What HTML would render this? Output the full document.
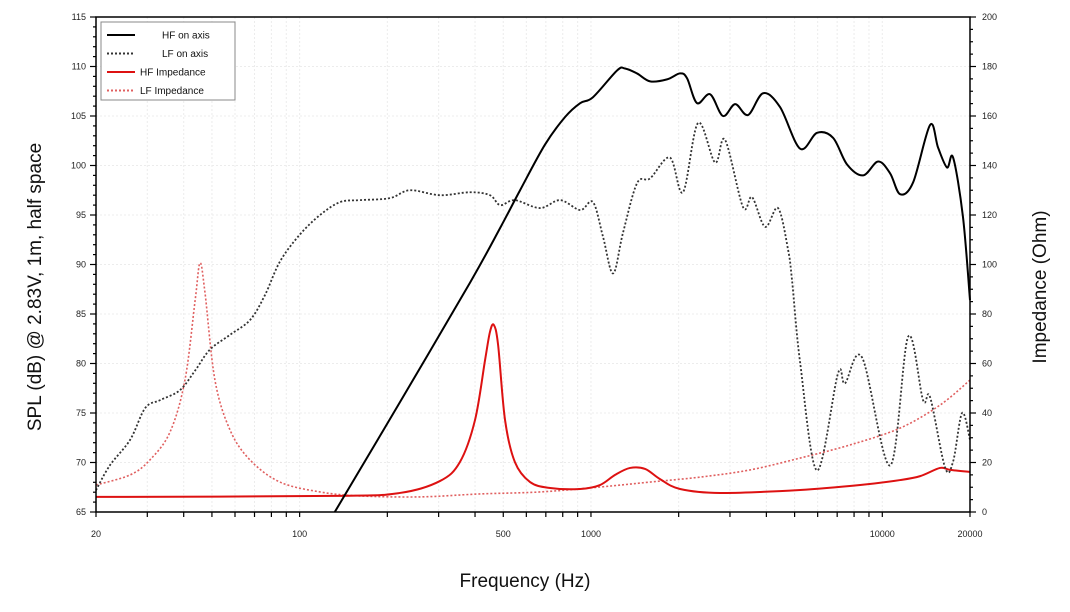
<!DOCTYPE html>
<html><head><meta charset="utf-8"><style>
html,body{margin:0;padding:0;background:#fff;}
svg text{font-family:"Liberation Sans",sans-serif;}
</style></head><body>
<svg id="chart" width="1070" height="607" viewBox="0 0 1070 607" xmlns="http://www.w3.org/2000/svg"></svg>
<script>
const hfFreq=[132,221,385,488,571,695,815,918,1016,1229,1309,1439,1596,1824,2022,2138,2312,2564,2838,3126,3460,3899,4457,5223,5970,6776,7570,8593,9672,10640,11510,12760,14590,15540,16680,17500,18920,20000];
const hfSpl=[65.0,76.1,88.2,93.7,97.5,102.1,104.9,106.3,106.9,109.6,109.8,109.3,108.5,108.7,109.3,108.8,106.3,107.2,105.0,106.2,105.1,107.3,105.9,101.7,103.3,102.8,100.1,99.0,100.4,99.2,97.1,98.3,104.1,101.8,99.8,100.8,94.8,86.4];
const lfFreq=[20,22.3,26.2,29.5,33.2,38.8,43.8,49.2,57.7,67.6,76,85.6,100,117.5,137.6,161,204,239,303,385,450,488,548,668,784,918,1016,1100,1191,1288,1439,1596,1866,2070,2332,2667,2885,3326,3573,3962,4386,4748,4900,5223,5970,7046,7448,8526,10640,12265,13800,14590,16420,17500,18790,20000];
const lfSpl=[67.2,69.7,72.3,75.5,76.3,77.3,79.3,81.4,82.9,84.4,86.9,90.3,93.0,95.0,96.3,96.5,96.7,97.5,97.0,97.3,97.0,96.0,96.5,95.7,96.5,95.5,96.3,92.8,89.1,93.2,98.2,98.7,100.8,97.3,104.3,100.3,102.6,95.8,96.8,93.8,95.7,91.5,88.4,80.1,69.2,79.0,78.0,80.6,69.7,82.7,76.3,76.6,69.5,70.1,75.0,72.3];
const hfImpFreq=[20,132,221,303,355,400,433,450,464,480,507,548,618,724,918,1074,1210,1362,1534,1726,2022,2774,5223,8393,11510,13490,15780,17100,20000];
const hfImp=[6.1,6.5,7.7,12.5,20.2,37.2,61.4,72.7,75.6,67.5,37.2,20.2,12.1,9.7,9.3,10.9,15.0,17.8,17.4,13.3,9.3,7.7,8.9,10.9,12.9,14.5,17.8,17.0,16.2];
const lfImpFreq=[20,26.2,30.6,35.9,40.4,43.8,45.5,47.3,51.2,57.7,67.6,85.6,117.5,161,259,416,668,1074,1596,2370,3516,5223,7750,11510,15780,20000];
const lfImp=[10.9,15.0,21.0,32.3,53.3,85.7,100.6,88.9,53.3,33.1,21.0,12.1,8.1,6.5,6.1,7.3,8.1,10.1,12.1,14.1,17.0,21.8,27.1,33.9,43.2,53.3];
const xTickLabels=[20,100,500,1000,10000,20000];
const splTicks=[65,70,75,80,85,90,95,100,105,110,115];
const impTicks=[0,20,40,60,80,100,120,140,160,180,200];

const L=96,R=970,T=17,B=512;
const NS="http://www.w3.org/2000/svg";
const svg=document.getElementById('chart');
function X(f){return L+(R-L)*Math.log10(f/20)/3;}
function Y(db){return B-(db-65)*(B-T)/50;}
function YI(o){return B-o*(B-T)/200;}
function el(tag,attrs,parent){const e=document.createElementNS(NS,tag);for(const k in attrs)e.setAttribute(k,attrs[k]);(parent||svg).appendChild(e);return e;}

const grid=el('g',{});


for(let dec=10;dec<=10000;dec*=10){for(let m=1;m<10;m++){const f=dec*m;if(f<=20||f>=20000)continue;const x=X(f);el('line',{x1:x,x2:x,y1:T,y2:B,stroke:'#ececec','stroke-width':1,'stroke-dasharray':'2,2'},grid);}}
splTicks.forEach(v=>{if(v===65||v===115)return;const y=Y(v);el('line',{x1:L,x2:R,y1:y,y2:y,stroke:'#ececec','stroke-width':1,'stroke-dasharray':'2,2'},grid);});

function path(fs,vs,yf,color,w,dash,name){
  const pts=fs.map((f,i)=>[X(f),yf(vs[i])]);
  let d='M'+pts[0][0]+','+pts[0][1];
  for(let i=0;i<pts.length-1;i++){const p0=pts[Math.max(0,i-1)],p1=pts[i],p2=pts[i+1],p3=pts[Math.min(pts.length-1,i+2)];
    const c1=[p1[0]+(p2[0]-p0[0])/6,p1[1]+(p2[1]-p0[1])/6],c2=[p2[0]-(p3[0]-p1[0])/6,p2[1]-(p3[1]-p1[1])/6];
    d+=' C'+c1+' '+c2+' '+p2;}
  const p=el('path',{d:d,fill:'none',stroke:color,'stroke-width':w});
  if(dash)p.setAttribute('stroke-dasharray',dash);
  
  
}
path(lfImpFreq,lfImp,YI,'#e06060',1.6,'2,2','lf-impedance-line');
path(hfImpFreq,hfImp,YI,'#dd1111',2,null,'hf-impedance-line');
path(lfFreq,lfSpl,Y,'#333',1.8,'2,2','lf-on-axis-line');
path(hfFreq,hfSpl,Y,'#000',2,null,'hf-on-axis-line');

const fr=el('rect',{x:L,y:T,width:R-L,height:B-T,fill:'none',stroke:'#000','stroke-width':1.5});



for(let v=65;v<=115;v++){const y=Y(v);const maj=v%5===0;el('line',{x1:L-(maj?6:3),x2:L,y1:y,y2:y,stroke:'#000','stroke-width':1.2});}
splTicks.forEach(v=>{const t=el('text',{x:L-10,y:Y(v)+3,'font-size':9,'text-anchor':'end',fill:'#222'});t.textContent=v;

});
for(let v=0;v<=200;v+=5){const y=YI(v);const maj=v%20===0;el('line',{x1:R,x2:R+(maj?6:3),y1:y,y2:y,stroke:'#000','stroke-width':1.2});}
impTicks.forEach(v=>{const t=el('text',{x:R+12,y:YI(v)+3,'font-size':9,fill:'#222'});t.textContent=v;

});
for(let dec=10;dec<=10000;dec*=10){for(let m=1;m<10;m++){const f=dec*m;if(f<20||f>20000)continue;el('line',{x1:X(f),x2:X(f),y1:B,y2:B+5,stroke:'#000','stroke-width':1.2});}}
xTickLabels.forEach(v=>{const t=el('text',{x:X(v),y:B+25,'font-size':9,'text-anchor':'middle',fill:'#222'});t.textContent=v;

});

let t=el('text',{x:0,y:0,'font-size':19,'text-anchor':'middle',fill:'#111',transform:'translate(41,287) rotate(-90)'});t.textContent='SPL (dB) @ 2.83V, 1m, half space';


t=el('text',{x:0,y:0,'font-size':19,'text-anchor':'middle',fill:'#111',transform:'translate(1046,287) rotate(-90)'});t.textContent='Impedance (Ohm)';


t=el('text',{x:525,y:587,'font-size':19,'text-anchor':'middle',fill:'#111'});t.textContent='Frequency (Hz)';



const lg=el('g',{});


el('rect',{x:101,y:22,width:134,height:78,fill:'#fff',stroke:'#888','stroke-width':1},lg);
const entries=[['HF on axis','#000',null],['LF on axis','#333','2,2'],['HF Impedance','#dd1111',null],['LF Impedance','#e06060','2,2']];
entries.forEach((e,i)=>{const y=35+i*18.5;const ln=el('line',{x1:107,x2:135,y1:y,y2:y,stroke:e[1],'stroke-width':2},lg);if(e[2])ln.setAttribute('stroke-dasharray',e[2]);
const tx=el('text',{x:i<2?162:140,y:y+3.5,'font-size':10,fill:'#111'},lg);tx.textContent=e[0];

});
</script>
</body></html>
